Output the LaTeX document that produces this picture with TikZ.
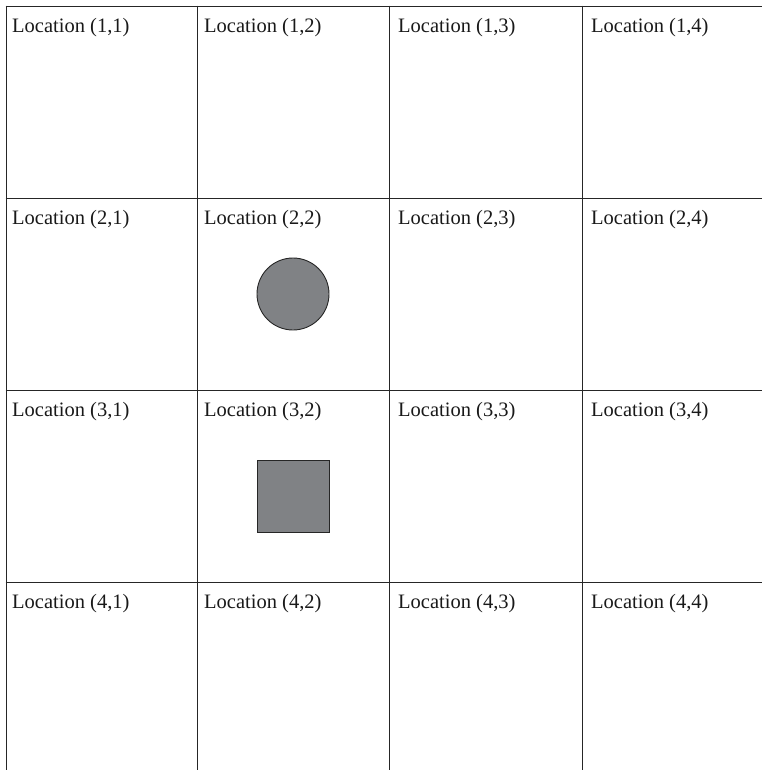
\documentclass[tikz,border=0pt]{standalone}
\usepackage{fontspec}
\setmainfont{Liberation Serif}
\begin{document}
\begin{tikzpicture}[x=1pt,y=-1pt,
  gridline/.style={line width=0.85pt,draw=black!85},
  celllabel/.style={anchor=west,inner sep=0pt,font=\fontsize{20.5}{22}\selectfont,text=black!90},
  token/.style={minimum size=72pt,inner sep=0pt,fill=tok,draw=black!85,line width=0.9pt}]
\definecolor{tok}{HTML}{808285}
\useasboundingbox (0,0) rectangle (762,770);
% grid
\foreach \y in {6,198,390,582} \draw[gridline] (5.6,\y) -- (762,\y);
\foreach \x in {6,197,389,582} \draw[gridline] (\x,5.6) -- (\x,770);
% labels
\foreach \r/\yy in {1/28,2/220,3/412,4/604}
  \foreach \c/\xx in {1/12,2/204,3/398,4/591}
    \node[celllabel] (L\r\c) at (\xx,\yy) {Location (\r,\c)};
% shapes
\node[token,circle] (circ) at (293,294) {};
\node[token,rectangle] (sq) at (293,496.5) {};
\end{tikzpicture}
\end{document}
